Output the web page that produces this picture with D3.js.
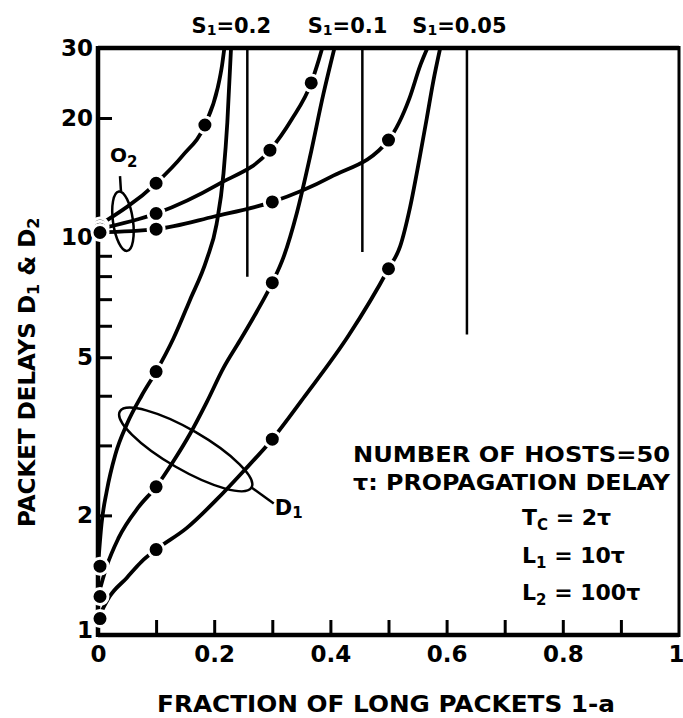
<!DOCTYPE html>
<html>
<head>
<meta charset="utf-8">
<script src="https://cdn.jsdelivr.net/npm/d3@7/dist/d3.min.js"></script>
<style>
  body { margin: 0; background: #fff; }
  text { font-family: "DejaVu Sans", sans-serif; font-weight: bold; fill: #000; }
</style>
</head>
<body>
<div id="chart"></div>
<script>
// values: x = fraction of long packets 1-a, y = delay
// D1 curves (short packets)
const d1S02x = [0, 0.006, 0.015, 0.03, 0.05, 0.075, 0.1, 0.13, 0.158, 0.187, 0.204, 0.216, 0.2226, 0.229];
const d1S02y = [1.49, 1.9, 2.3, 2.85, 3.4, 4.0, 4.6, 5.58, 6.95, 8.8, 10.8, 14.5, 19.5, 30];
const d1S01x = [0, 0.015, 0.035, 0.07, 0.1, 0.13, 0.158, 0.187, 0.216, 0.244, 0.273, 0.3, 0.319, 0.342, 0.365, 0.388, 0.407];
const d1S01y = [1.25, 1.49, 1.75, 2.1, 2.36, 2.74, 3.2, 3.85, 4.7, 5.5, 6.5, 7.7, 8.9, 11.5, 16, 23, 30];
const d1S005x = [0, 0.02, 0.049, 0.075, 0.1, 0.153, 0.204, 0.25, 0.3, 0.356, 0.431, 0.5, 0.52, 0.537, 0.554, 0.566, 0.577, 0.589];
const d1S005y = [1.10, 1.25, 1.39, 1.53, 1.64, 1.86, 2.19, 2.58, 3.11, 3.99, 5.66, 8.35, 9.5, 11.9, 16.0, 20, 24.7, 30];
// D2 curves (long packets)
const d2S02x = [0, 0.1, 0.146, 0.184, 0.206, 0.2136, 0.2175];
const d2S02y = [10.7, 13.7, 16.1, 19.2, 23.8, 27.2, 30];
const d2S01x = [0, 0.1, 0.206, 0.296, 0.333, 0.367, 0.38, 0.386];
const d2S01y = [10.5, 11.5, 13.6, 16.6, 19.8, 24.5, 28, 30];
const d2S005x = [0, 0.1, 0.2, 0.3, 0.4, 0.5, 0.536, 0.555, 0.567];
const d2S005y = [10.3, 10.5, 11.3, 12.3, 14.2, 17.6, 22.4, 27.2, 30];

// the marked (dotted) points
const d1S02dotX = [0, 0.1];
const d1S02dotY = [1.49, 4.6];
const d1S01dotX = [0, 0.1, 0.3];
const d1S01dotY = [1.25, 2.36, 7.7];
const d1S005dotX = [0, 0.1, 0.3, 0.5];
const d1S005dotY = [1.10, 1.64, 3.11, 8.35];
const d2S02dotX = [0, 0.1, 0.184];
const d2S02dotY = [10.7, 13.7, 19.2];
const d2S01dotX = [0, 0.1, 0.296, 0.367];
const d2S01dotY = [10.5, 11.5, 16.6, 24.5];
const d2S005dotX = [0, 0.1, 0.3, 0.5];
const d2S005dotY = [10.3, 10.5, 12.3, 17.6];

// thin vertical limit lines (x position, lower end)
const limitX = [0.257, 0.455, 0.635];
const limitLow = [7.97, 9.2, 5.7];

// series labels at the top
const sLabels = ["0.2", "0.1", "0.05"];
const sLabelX = [0.161, 0.361, 0.541];

// ticks
const xTickMarks = [0.1, 0.2, 0.3, 0.4, 0.5, 0.6, 0.7, 0.8, 0.9];
const xTickLabels = [0, 0.2, 0.4, 0.6, 0.8, 1];
const yTickMarks = [2, 3, 4, 5, 6, 7, 8, 9, 20];
const yTickLabels = [1, 2, 5, 10, 20, 30];

const svgwidth = 683;
const svgheight = 718;
var margin = {top: 48, right: 4, bottom: 83, left: 98};
var width = svgwidth - margin.left - margin.right;
var height = svgheight - margin.top - margin.bottom;

var svg = d3.select("#chart")
  .append("svg")
  .attr("width", svgwidth)
  .attr("height", svgheight);

var chart = svg.append("g")
  .attr("transform", `translate(${margin.left}, ${margin.top})`);

var x = d3.scaleLinear().domain([0, 1]).range([0, width]);
var y = d3.scaleLog().domain([1, 30]).range([height, 0]);

svg.append("clipPath").attr("id", "plot")
  .append("rect").attr("x", 0).attr("y", 0).attr("width", width).attr("height", height);

// inward ticks
var xt = chart.append("g")
  .attr("transform", `translate(0, ${height})`)
  .call(d3.axisBottom(x).tickValues(xTickMarks).tickSize(-15).tickFormat(""));
var yt = chart.append("g")
  .call(d3.axisLeft(y).tickValues(yTickMarks).tickSize(-14).tickFormat(""));
[xt, yt].forEach(g => {
  g.select(".domain").remove();
  g.selectAll("line").attr("stroke", "#000").attr("stroke-width", 3);
});

// tick labels
var xl = chart.append("g")
  .attr("transform", `translate(0, ${height})`)
  .call(d3.axisBottom(x).tickValues(xTickLabels).tickSize(0).tickPadding(11)
    .tickFormat(d => d === 0 || d === 1 ? String(d) : d3.format(".1f")(d)));
var yl = chart.append("g")
  .call(d3.axisLeft(y).tickValues(yTickLabels).tickSize(0).tickPadding(5).tickFormat(d3.format("d")));
[xl, yl].forEach(g => {
  g.select(".domain").remove();
  g.selectAll("text").attr("font-size", 23).attr("font-family", "DejaVu Sans").attr("font-weight", "bold");
});
xl.selectAll("text").filter(d => d === 1).attr("text-anchor", "end").attr("dx", 5);
yl.selectAll("text").filter(d => d === 1).attr("dy", "0.1em");

// frame
chart.append("line").attr("x1", 0).attr("x2", width).attr("y1", 0).attr("y2", 0)
  .attr("stroke", "#000").attr("stroke-width", 4.5);
chart.append("line").attr("x1", 0).attr("x2", width).attr("y1", height).attr("y2", height)
  .attr("stroke", "#000").attr("stroke-width", 4.5);
chart.append("line").attr("x1", 0).attr("x2", 0).attr("y1", -2).attr("y2", height + 2)
  .attr("stroke", "#000").attr("stroke-width", 4.5);
chart.append("line").attr("x1", width).attr("x2", width).attr("y1", -2).attr("y2", height + 2)
  .attr("stroke", "#000").attr("stroke-width", 3);

// thin vertical limits
chart.selectAll(".limit")
  .data(limitX)
  .enter()
  .append("line")
  .attr("x1", d => x(d)).attr("x2", d => x(d))
  .attr("y1", y(30)).attr("y2", (d, i) => y(limitLow[i]))
  .attr("stroke", "#000").attr("stroke-width", 2.5);

// curves
var line = d3.line()
  .x(d => x(d[0]))
  .y(d => y(d[1]))
  .curve(d3.curveMonotoneX);

var curves = [
  [d1S02x, d1S02y], [d1S01x, d1S01y], [d1S005x, d1S005y],
  [d2S02x, d2S02y], [d2S01x, d2S01y], [d2S005x, d2S005y]
];
var plot = chart.append("g").attr("clip-path", "url(#plot)");
curves.forEach(c => {
  plot.append("path")
    .datum(d3.zip(c[0], c[1]))
    .attr("d", line)
    .attr("fill", "none")
    .attr("stroke", "#000")
    .attr("stroke-width", 3.8);
});

// dots
var dots = [
  [d1S02dotX, d1S02dotY], [d1S01dotX, d1S01dotY], [d1S005dotX, d1S005dotY],
  [d2S02dotX, d2S02dotY], [d2S01dotX, d2S01dotY], [d2S005dotX, d2S005dotY]
];
dots.forEach(c => {
  chart.append("g").selectAll("circle")
    .data(d3.zip(c[0], c[1]))
    .enter()
    .append("circle")
    .attr("cx", d => x(d[0]) + (d[0] === 0 ? 2 : 0))
    .attr("cy", d => y(d[1]))
    .attr("r", 8)
    .attr("fill", "#000")
    .attr("stroke", "#fff")
    .attr("stroke-width", 3);
});

// D1 bracket ellipse
var ecx = x(0.151), ecy = y(2.93);
chart.append("ellipse")
  .attr("cx", ecx).attr("cy", ecy).attr("rx", 76).attr("ry", 20)
  .attr("transform", `rotate(30, ${ecx}, ${ecy})`)
  .attr("fill", "none").attr("stroke", "#000").attr("stroke-width", 2.5);
chart.append("line")
  .attr("x1", ecx + 76 * Math.cos(Math.PI / 6)).attr("y1", ecy + 76 * Math.sin(Math.PI / 6))
  .attr("x2", ecx + 88).attr("y2", ecy + 54)
  .attr("stroke", "#000").attr("stroke-width", 2.5);
var d1lab = chart.append("text").attr("x", ecx + 89).attr("y", ecy + 66).attr("font-size", 21);
d1lab.append("tspan").text("D");
d1lab.append("tspan").attr("font-size", 15).attr("dy", 3).text("1");

// D2 bracket loop
var ocx = x(0.043), ocy = y(11.0);
chart.append("ellipse")
  .attr("cx", ocx).attr("cy", ocy).attr("rx", 10).attr("ry", 30)
  .attr("transform", `rotate(-8, ${ocx}, ${ocy})`)
  .attr("fill", "none").attr("stroke", "#000").attr("stroke-width", 2.5);
chart.append("line")
  .attr("x1", ocx - 2).attr("y1", ocy - 30)
  .attr("x2", ocx - 3).attr("y2", ocy - 45)
  .attr("stroke", "#000").attr("stroke-width", 2.5);
var d2lab = chart.append("text").attr("x", ocx - 13).attr("y", ocy - 59).attr("font-size", 20);
d2lab.append("tspan").text("O");
d2lab.append("tspan").attr("font-size", 15).attr("dy", 5).text("2");

// S1 labels above the frame
sLabels.forEach((s, i) => {
  var t = svg.append("text").attr("x", margin.left + x(sLabelX[i])).attr("y", 33).attr("font-size", 21);
  t.append("tspan").text("S");
  t.append("tspan").attr("font-size", 14).attr("dy", 2).text("1");
  t.append("tspan").attr("dy", -2).text("=" + s);
});

// parameter box
svg.append("text").attr("x", 353).attr("y", 462).attr("font-size", 22)
  .attr("textLength", 317).attr("lengthAdjust", "spacingAndGlyphs")
  .text("NUMBER OF HOSTS=50");
svg.append("text").attr("x", 353).attr("y", 490).attr("font-size", 22)
  .attr("textLength", 317).attr("lengthAdjust", "spacingAndGlyphs")
  .text("τ: PROPAGATION DELAY");
var params = [["T", "C", " = 2τ", 525], ["L", "1", " = 10τ", 563], ["L", "2", " = 100τ", 600]];
params.forEach(p => {
  var t = svg.append("text").attr("x", 522).attr("y", p[3]).attr("font-size", 22);
  t.append("tspan").text(p[0]);
  t.append("tspan").attr("font-size", 15).attr("dy", 5).text(p[1]);
  t.append("tspan").attr("dy", -5).text(p[2]);
});

// axis titles
svg.append("text").attr("x", 157).attr("y", 712).attr("font-size", 23)
  .attr("textLength", 458).attr("lengthAdjust", "spacingAndGlyphs")
  .text("FRACTION OF LONG PACKETS 1-a");
var yt2 = svg.append("text")
  .attr("transform", "translate(35, 527) rotate(-90)")
  .attr("font-size", 23);
yt2.append("tspan").text("PACKET DELAYS D");
yt2.append("tspan").attr("font-size", 16).attr("dy", 4).text("1");
yt2.append("tspan").attr("dy", -4).text(" & D");
yt2.append("tspan").attr("font-size", 16).attr("dy", 4).text("2");
</script>
</body>
</html>
